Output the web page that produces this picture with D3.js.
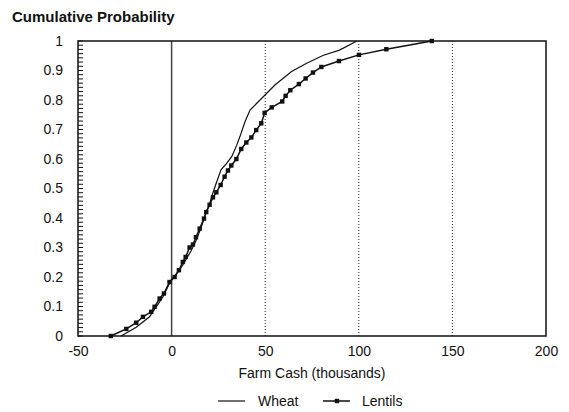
<!DOCTYPE html>
<html><head><meta charset="utf-8">
<script src="https://cdn.jsdelivr.net/npm/d3@7"></script>
<style>body{margin:0;background:#fff;} text{font-family:Arial,"Liberation Sans",sans-serif;fill:#111;}</style>
</head><body>
<svg id="c" width="569" height="412"></svg>
<script>
const wheatX = [-27,-18.9,-11.8,-8.2,-4.6,-2,-0.2,4.3,6.9,10.5,13.2,15.9,18.5,20.3,21.4,24.1,26.4,29.4,32.1,34.8,36.5,39.2,41.9,45.5,49.9,55.2,63.9,71.9,80.8,89.7,99];
const wheatP = [0,0.03,0.065,0.099,0.133,0.167,0.19,0.224,0.25,0.29,0.325,0.37,0.42,0.448,0.472,0.523,0.563,0.585,0.608,0.647,0.676,0.726,0.766,0.789,0.817,0.851,0.896,0.924,0.951,0.969,1.0];
const lentilsX = [-32.5,-24.2,-18.9,-15.3,-10.9,-9.1,-6.4,-4.1,-1.1,1.6,3.9,6,7.5,9.6,11.4,13,15,17.3,18.5,20.3,22.1,23.9,26.2,28.3,30.1,31.9,34.6,37.2,39.9,42.6,45.2,47.9,49.7,53.5,59.1,60.9,63.4,68,71.6,75.5,80,89.4,100.1,114.7,139];
const lentilsP = [0,0.024,0.045,0.065,0.082,0.099,0.127,0.144,0.183,0.2,0.223,0.251,0.268,0.3,0.31,0.335,0.364,0.398,0.42,0.445,0.47,0.487,0.512,0.54,0.561,0.578,0.6,0.634,0.656,0.673,0.698,0.721,0.756,0.775,0.795,0.814,0.833,0.854,0.873,0.893,0.912,0.932,0.953,0.972,1.0];
const xTicks = [-50,0,50,100,150,200];
const yTicks = [0,0.1,0.2,0.3,0.4,0.5,0.6,0.7,0.8,0.9,1];
const gridX = [50,100,150];
const seriesNames = ["Wheat","Lentils"];

const svg = d3.select("#c");
const x = d3.scaleLinear().domain([-50,200]).range([78,546]);
const y = d3.scaleLinear().domain([0,1]).range([336,41]);

svg.append("text").attr("x",12).attr("y",22).attr("font-size",15).attr("font-weight","bold").text("Cumulative Probability");

// dotted grid
svg.selectAll(".g").data(gridX).enter().append("line")
  .attr("x1",d=>x(d)).attr("x2",d=>x(d)).attr("y1",y(0)).attr("y2",y(1))
  .attr("stroke","#222").attr("stroke-width",1).attr("stroke-dasharray","1,2");
// zero line
svg.append("line").attr("x1",x(0)).attr("x2",x(0)).attr("y1",y(0)).attr("y2",y(1)).attr("stroke","#444").attr("stroke-width",1.5);

// frame
svg.append("rect").attr("x",x(-50)).attr("y",y(1)).attr("width",x(200)-x(-50)).attr("height",y(0)-y(1))
  .attr("fill","none").attr("stroke","#111").attr("stroke-width",1.5);

// y minor ticks
const minor = d3.range(0,71).map(i=>i/70);
svg.selectAll(".mt").data(minor).enter().append("line")
  .attr("x1",x(-50)).attr("x2",x(-50)+5).attr("y1",d=>y(d)).attr("y2",d=>y(d)).attr("stroke","#111").attr("stroke-width",1);

const yAxis = svg.append("g").attr("transform",`translate(${x(-50)},0)`)
  .call(d3.axisLeft(y).tickValues(yTicks).tickSize(0).tickPadding(15).tickFormat(d=>d3.format("")(d)));
yAxis.select(".domain").remove();
yAxis.selectAll("text").attr("font-size",14).style("font-family","Arial").attr("fill","#111");

const xAxis = svg.append("g").attr("transform",`translate(0,${y(0)})`)
  .call(d3.axisBottom(x).tickValues(xTicks).tickSize(0).tickPadding(10).tickFormat(d=>String(d)));
xAxis.select(".domain").remove();
xAxis.selectAll("text").attr("font-size",14).style("font-family","Arial").attr("fill","#111");

svg.append("text").attr("x",(x(-50)+x(200))/2).attr("y",378).attr("text-anchor","middle").attr("font-size",14).text("Farm Cash (thousands)");

const line = d3.line().x(d=>x(d[0])).y(d=>y(d[1]));
const wheat = wheatX.map((v,i)=>[v,wheatP[i]]);
const lentils = lentilsX.map((v,i)=>[v,lentilsP[i]]);
svg.append("path").datum(wheat).attr("d",line).attr("fill","none").attr("stroke","#111").attr("stroke-width",1.2);
svg.append("path").datum(lentils).attr("d",line).attr("fill","none").attr("stroke","#111").attr("stroke-width",1.5);
svg.selectAll(".m").data(lentils).enter().append("rect")
  .attr("x",d=>x(d[0])-2.2).attr("y",d=>y(d[1])-2.2).attr("width",4.4).attr("height",4.4).attr("fill","#111");

// legend
const lg = svg.append("g");
lg.append("line").attr("x1",218).attr("x2",245).attr("y1",401).attr("y2",401).attr("stroke","#111").attr("stroke-width",1.2);
lg.append("text").attr("x",258).attr("y",406).attr("font-size",14).text(seriesNames[0]);
lg.append("line").attr("x1",323).attr("x2",350).attr("y1",401).attr("y2",401).attr("stroke","#111").attr("stroke-width",1.5);
lg.append("rect").attr("x",334.8).attr("y",398.8).attr("width",4.4).attr("height",4.4).attr("fill","#111");
lg.append("text").attr("x",362).attr("y",406).attr("font-size",14).text(seriesNames[1]);
</script>
</body></html>
